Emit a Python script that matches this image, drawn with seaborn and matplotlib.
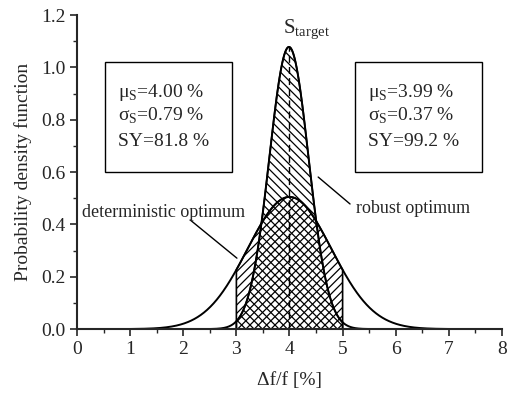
import numpy as np
import pandas as pd
import matplotlib
matplotlib.use("Agg")
import matplotlib.pyplot as plt
import seaborn as sns
from matplotlib.patches import Rectangle

# ---- data ----
series_names = ["deterministic optimum", "robust optimum"]
means = [4.00, 3.99]          # mu_S [%]
sigmas = [0.79, 0.37]         # sigma_S [%]
yields = [81.8, 99.2]         # SY [%]
spec_low, spec_high = 3.0, 5.0
target = 4.0
x_range = [1.0, 7.0]
x_ticks = [0, 1, 2, 3, 4, 5, 6, 7, 8]
y_ticks = [0.0, 0.2, 0.4, 0.6, 0.8, 1.0, 1.2]

sns.set_style("ticks")
plt.rcParams['font.family'] = ['Liberation Serif', 'DejaVu Serif']
plt.rcParams['mathtext.fontset'] = 'custom'
plt.rcParams['mathtext.rm'] = 'Liberation Serif'
plt.rcParams['hatch.linewidth'] = 0.9
plt.rcParams['hatch.color'] = 'black'

x = np.linspace(x_range[0], x_range[1], 601)
frames = []
for name, m, s in zip(series_names, means, sigmas):
    pdf = np.exp(-0.5 * ((x - m) / s) ** 2) / (s * np.sqrt(2 * np.pi))
    frames.append(pd.DataFrame({"x": x, "pdf": pdf, "series": name}))
df = pd.concat(frames, ignore_index=True)

fig = plt.figure(figsize=(5.07, 3.96), dpi=100)
ax = fig.add_axes([0.152, 0.169, 0.838, 0.793])

sns.lineplot(data=df, x="x", y="pdf", hue="series", palette=["black", "black"],
             linewidth=1.4, legend=False, ax=ax)

hatches = ["////", "\\\\\\\\"]
for (name, h) in zip(series_names, hatches):
    d = df[(df.series == name) & (df.x >= spec_low - 1e-9) & (df.x <= spec_high + 1e-9)]
    ax.fill_between(d.x, 0, d.pdf, facecolor="none", edgecolor="black",
                    hatch=h, linewidth=1.2)

peak = df[df.series == series_names[1]].pdf.max()
ax.plot([target, target], [0, peak], color="black", linestyle=(0, (5, 3)), linewidth=1.0)

ax.set_xlim(0, 8)
ax.set_ylim(0, 1.2)
ax.set_xticks(x_ticks)
ax.set_yticks(y_ticks)
ax.set_yticklabels([f"{v:.1f}" for v in y_ticks])
ax.set_xticks(np.arange(0.5, 8, 1.0), minor=True)
ax.set_yticks(np.arange(0.1, 1.2, 0.2), minor=True)
ax.tick_params(which="major", direction="out", length=5, width=1.2, labelsize=14)
ax.tick_params(which="minor", direction="out", length=3, width=1.0)
for sp in ["top", "right"]:
    ax.spines[sp].set_visible(False)
for sp in ["left", "bottom"]:
    ax.spines[sp].set_linewidth(1.5)

ax.set_xlabel("Δf/f [%]", fontsize=14, labelpad=10)
ax.set_ylabel("Probability density function", fontsize=14, labelpad=6)

# info boxes
box_x = [0.527, 5.235]
box_w = 2.39
for bx, m, s, sy in zip(box_x, means, sigmas, yields):
    ax.add_patch(Rectangle((bx, 0.60), box_w, 0.42, facecolor="white",
                           edgecolor="black", linewidth=1.0, zorder=3))
    tx = bx + 0.245
    ax.text(tx, 0.886, f"μ$_\\mathrm{{S}}$={m:.2f} %", fontsize=14, va="baseline", zorder=4)
    ax.text(tx, 0.795, f"σ$_\\mathrm{{S}}$={s:.2f} %", fontsize=14, va="baseline", zorder=4)
    ax.text(tx, 0.700, f"SY={sy:.1f} %", fontsize=14, va="baseline", zorder=4)

ax.text(3.88, 1.131, r"S$_\mathrm{target}$", fontsize=15, va="baseline")

ax.text(0.094, 0.447, series_names[0], fontsize=13, va="center")
ax.plot([2.13, 3.01], [0.417, 0.271], color="black", linewidth=1.0)
ax.text(5.25, 0.462, series_names[1], fontsize=13, va="center")
ax.plot([5.14, 4.54], [0.478, 0.581], color="black", linewidth=1.0)

fig.savefig("out.png", dpi=100)
